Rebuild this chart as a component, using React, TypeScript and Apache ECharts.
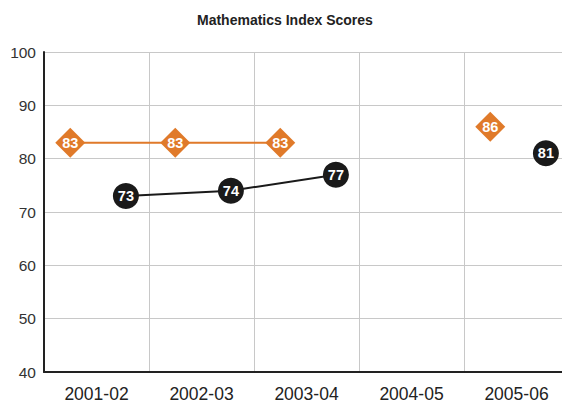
import React, { useEffect, useRef } from "react";
import * as echarts from "echarts";

const categories = ["2001-02", "2002-03", "2003-04", "2004-05", "2005-06"];
const orangeScores: (number | null)[] = [83, 83, 83, null, 86];
const blackScores: (number | null)[] = [73, 74, 77, null, 81];
const yTicks = { min: 40, max: 100, interval: 10 };
const orangeOffset = -0.25;
const blackOffset = 0.28;

const toPoints = (vals: (number | null)[], off: number) =>
  vals.map((v, i) => [i + off, v === null ? "-" : v]);

export default function App() {
  const ref = useRef<HTMLDivElement>(null);
  useEffect(() => {
    if (!ref.current) return;
    const chart = echarts.init(ref.current, null, { renderer: "svg" });
    const font = "Liberation Sans, Arial, sans-serif";
    chart.setOption({
      animation: false,
      textStyle: { fontFamily: font },
      title: {
        text: "Mathematics Index Scores",
        left: 192,
        top: 8,
        textStyle: { fontSize: 14, fontWeight: "bold", color: "#222", fontFamily: font },
      },
      grid: { left: 44, width: 525, top: 52, height: 320, containLabel: false },
      xAxis: [
        {
          type: "category",
          data: categories,
          boundaryGap: true,
          axisLine: { show: true, lineStyle: { color: "#222", width: 2 } },
          axisTick: { show: false },
          axisLabel: { color: "#222", fontSize: 17.5, margin: 13, fontFamily: font },
          splitLine: { show: true, lineStyle: { color: "#c8c8c8", width: 1 } },
        },
        {
          type: "value",
          min: -0.5,
          max: 4.5,
          show: false,
          splitLine: { show: false },
        },
      ],
      yAxis: {
        type: "value",
        min: yTicks.min,
        max: yTicks.max,
        interval: yTicks.interval,
        axisLine: { show: true, onZero: false, lineStyle: { color: "#222", width: 2 } },
        axisTick: { show: false },
        axisLabel: { color: "#333", fontSize: 15.5, margin: 8, fontFamily: font },
        splitLine: { show: true, lineStyle: { color: "#c8c8c8", width: 1 } },
      },
      series: [
        {
          type: "line",
          xAxisIndex: 1,
          data: toPoints(orangeScores, orangeOffset),
          symbol: "diamond",
          symbolSize: 30,
          showAllSymbol: true,
          connectNulls: false,
          itemStyle: { color: "#e07a2a", opacity: 1 },
          lineStyle: { color: "#e07a2a", width: 2 },
          label: {
            show: true,
            position: "inside",
            color: "#fff",
            fontWeight: "bold",
            fontSize: 14.5,
            fontFamily: font,
          },
          z: 3,
        },
        {
          type: "line",
          xAxisIndex: 1,
          data: toPoints(blackScores, blackOffset),
          symbol: "circle",
          symbolSize: 26,
          showAllSymbol: true,
          connectNulls: false,
          itemStyle: { color: "#1a1a1a", opacity: 1 },
          lineStyle: { color: "#1a1a1a", width: 2 },
          label: {
            show: true,
            position: "inside",
            color: "#fff",
            fontWeight: "bold",
            fontSize: 14.5,
            fontFamily: font,
          },
          z: 4,
        },
      ],
    });
    return () => chart.dispose();
  }, []);
  return (
    <div
      style={{
        position: "fixed",
        left: 0,
        top: 0,
        width: 562,
        height: 403,
        overflow: "hidden",
        background: "#fff",
      }}
    >
      <div ref={ref} style={{ width: 580, height: 403 }} />
    </div>
  );
}
